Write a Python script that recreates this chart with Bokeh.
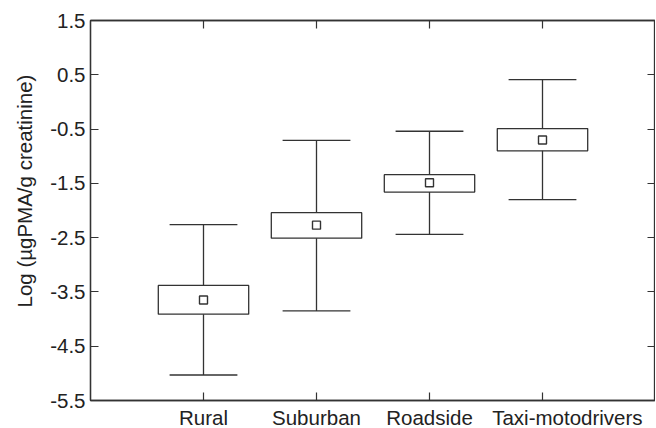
from bokeh.plotting import figure
from bokeh.models import LinearAxis, FixedTicker, Range1d, Title
from bokeh.embed import file_html
from bokeh.resources import INLINE

categories = ["Rural", "Suburban", "Roadside", "Taxi-motodrivers"]
whisker_low = [-5.03, -3.85, -2.44, -1.80]
box_low = [-3.91, -2.51, -1.66, -0.90]
mean_val = [-3.65, -2.27, -1.49, -0.70]
box_high = [-3.38, -2.04, -1.34, -0.49]
whisker_high = [-2.26, -0.71, -0.54, 0.41]
y_ticks = [-5.5, -4.5, -3.5, -2.5, -1.5, -0.5, 0.5, 1.5]

xs = list(range(1, len(categories) + 1))
col = "#333333"
txt = "#222222"
font = "Liberation Sans"
fs = "20.5px"

p = figure(output_backend="svg", toolbar_location=None,
           x_range=Range1d(0, 5), y_range=Range1d(-5.5, 1.5),
           frame_width=565, frame_height=380,
           min_border_left=90, min_border_top=20, min_border_right=0, min_border_bottom=28)
p.xgrid.visible = False
p.ygrid.visible = False
p.outline_line_color = col
p.outline_line_width = 1.3
p.background_fill_color = "white"
p.border_fill_color = "white"

# whiskers
p.segment(x0=xs, y0=whisker_low, x1=xs, y1=whisker_high, line_color=col, line_width=1.3)
cap_w = 0.3
p.segment(x0=[x - cap_w for x in xs], y0=whisker_low, x1=[x + cap_w for x in xs], y1=whisker_low,
          line_color=col, line_width=1.3)
p.segment(x0=[x - cap_w for x in xs], y0=whisker_high, x1=[x + cap_w for x in xs], y1=whisker_high,
          line_color=col, line_width=1.3)
# boxes
p.vbar(x=xs, width=0.8, bottom=box_low, top=box_high, fill_color="white",
       line_color=col, line_width=1.3)
# means
p.scatter(x=xs, y=mean_val, marker="square", size=8, fill_color="white",
          line_color=col, line_width=1.4)

def style(ax, labels=True):
    ax.axis_line_color = col
    ax.axis_line_width = 1.3
    ax.major_tick_line_color = col
    ax.major_tick_line_width = 1.2
    ax.major_tick_in = 8
    ax.major_tick_out = 0
    ax.minor_tick_line_color = None
    ax.major_label_text_font = font
    if labels:
        ax.major_label_text_font_size = fs
        ax.major_label_text_color = txt
    else:
        ax.major_label_text_font_size = "0px"
        ax.major_label_text_color = None
        ax.major_label_standoff = 0

# bottom axis: tick marks (minor) at the categories, labels (major) at label positions;
# the last label is shifted right as in the original figure
label_pos = [float(x) for x in xs]
label_pos[-1] = xs[-1] + 0.22
xa = p.xaxis[0]
style(xa)
xa.ticker = FixedTicker(ticks=label_pos, minor_ticks=xs)
xa.major_label_overrides = {t: c for t, c in zip(label_pos, categories)}
xa.major_label_standoff = 5
xa.major_tick_line_color = None
xa.minor_tick_line_color = col
xa.minor_tick_line_width = 1.2
xa.minor_tick_in = 8
xa.minor_tick_out = 0

ya = p.yaxis[0]
style(ya)
ya.ticker = FixedTicker(ticks=y_ticks)
ya.major_label_overrides = {t: ("%.1f" % t) for t in y_ticks}
ya.major_label_standoff = 5

p.add_layout(Title(text="Log (\u00b5gPMA/g creatinine)", align="left", offset=93,
                   vertical_align="top", standoff=20, text_font=font,
                   text_font_size=fs, text_font_style="normal", text_color=txt), "left")

top = LinearAxis(ticker=FixedTicker(ticks=xs))
style(top, labels=False)
p.add_layout(top, "above")

right = LinearAxis(ticker=FixedTicker(ticks=y_ticks))
style(right, labels=False)
p.add_layout(right, "right")

open("out.html", "w").write(file_html(p, INLINE))
